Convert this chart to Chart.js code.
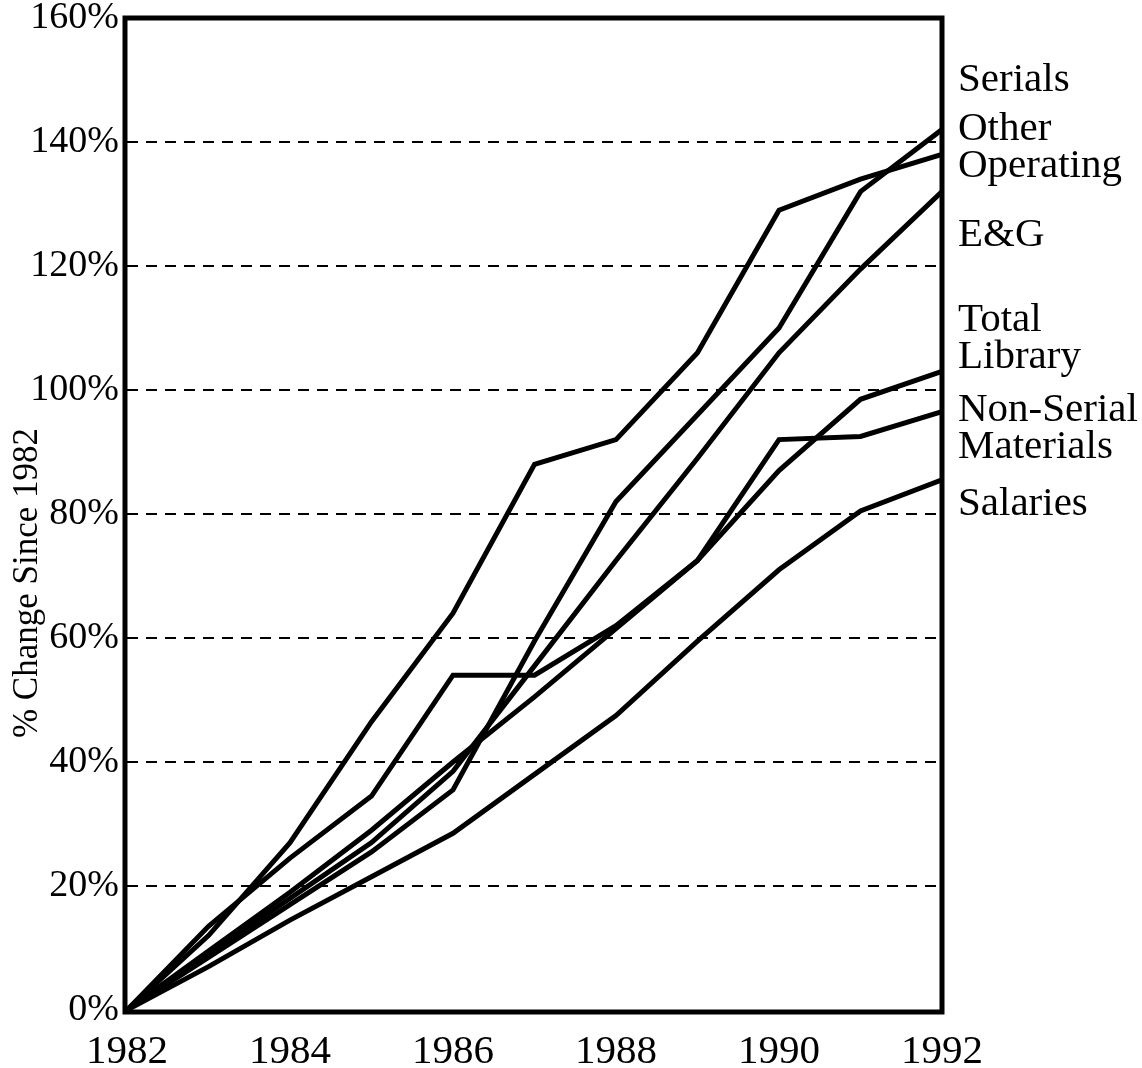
<!DOCTYPE html>
<html>
<head>
<meta charset="utf-8">
<script src="https://cdn.jsdelivr.net/npm/chart.js@4.4.1/dist/chart.umd.min.js"></script>
<style>
  html, body { margin: 0; padding: 0; background: #fff; }
  #wrap { width: 1142px; height: 1068px; }
</style>
</head>
<body>
<div id="wrap"><canvas id="growthChart" width="1142" height="1068"></canvas></div>
<script>
// Data (% change since 1982)
const years = [1982, 1983, 1984, 1985, 1986, 1987, 1988, 1989, 1990, 1991, 1992];
const serials        = [0, 8.5, 17, 25.5, 35.5, 59.5, 82, 96, 110, 132, 142];
const otherOperating = [0, 12, 27, 46.5, 64, 88, 92, 106, 129, 134, 138];
const eAndG          = [0, 9, 18, 27, 38.5, 55.5, 72.5, 89, 106, 119.5, 132];
const totalLibrary   = [0, 9.5, 19, 29, 40, 50.5, 61.5, 72.5, 87, 98.5, 103];
const nonSerial      = [0, 13.5, 24.5, 34.5, 54, 54, 62, 72.5, 92, 92.5, 96.5];
const salaries       = [0, 7, 14.5, 21.5, 28.5, 38, 47.5, 59.5, 71, 80.5, 85.5];

const yTicks = [0, 20, 40, 60, 80, 100, 120, 140, 160];
const xTicks = [1982, 1984, 1986, 1988, 1990, 1992];

// Labels at the right of the plot, and where they sit (in % units)
const endLabels = [['Serials'], ['Other', 'Operating'], ['E&G'], ['Total', 'Library'], ['Non-Serial', 'Materials'], ['Salaries']];
const endLabelAt = [150, 142, 125, 111.3, 96.8, 81.5];

const FONT = '"Liberation Serif", "Times New Roman", serif';

function toPoints(vals) {
  return vals.map((v, i) => ({ x: years[i], y: v }));
}

const seriesList = [serials, otherOperating, eAndG, totalLibrary, nonSerial, salaries];
const datasets = seriesList.map((vals, i) => ({
  label: endLabels[i].join(' '),
  data: toPoints(vals),
  borderColor: '#000',
  borderWidth: 5,
  pointRadius: 0,
  tension: 0,
  fill: false,
  borderJoinStyle: 'miter'
}));

// frame, y title and end labels
const decorations = {
  id: 'decorations',
  afterDatasetsDraw(chart) {
    const { ctx, chartArea, scales } = chart;
    ctx.save();
    ctx.strokeStyle = '#000';
    ctx.lineWidth = 5;
    ctx.strokeRect(chartArea.left - 2, chartArea.top, chartArea.right - chartArea.left + 2, chartArea.bottom - chartArea.top + 2);

    ctx.fillStyle = '#000';
    ctx.font = '41px ' + FONT;
    ctx.textBaseline = 'middle';
    ctx.textAlign = 'left';
    endLabels.forEach((lines, i) => {
      const y0 = scales.y.getPixelForValue(endLabelAt[i]);
      lines.forEach((txt, j) => ctx.fillText(txt, chartArea.right + 16, y0 + j * 37));
    });

    ctx.translate(28, 583);
    ctx.rotate(-Math.PI / 2);
    ctx.textAlign = 'center';
    ctx.font = '35px ' + FONT;
    ctx.fillText('% Change Since 1982', 0, 0);
    ctx.restore();
  }
};

new Chart(document.getElementById('growthChart'), {
  type: 'line',
  data: { datasets: datasets },
  options: {
    responsive: false,
    animation: false,
    layout: { padding: { left: 0, right: 200, top: 18, bottom: 0 } },
    plugins: {
      legend: { display: false },
      tooltip: { enabled: false }
    },
    scales: {
      x: {
        type: 'linear',
        min: 1982,
        max: 1992,
        afterBuildTicks: s => { s.ticks = xTicks.map(v => ({ value: v })); },
        afterFit: s => { s.height = 58; s.paddingLeft = 0; s.paddingRight = 0; },
        grid: { display: false },
        border: { display: false },
        ticks: {
          color: '#000',
          font: { family: FONT, size: 41 },
          padding: 10,
          maxRotation: 0,
          callback: v => String(v)
        }
      },
      y: {
        min: 0,
        max: 160,
        afterBuildTicks: s => { s.ticks = yTicks.map(v => ({ value: v })); },
        afterFit: s => { s.width = 127; s.paddingTop = 0; s.paddingBottom = 0; },
        border: { display: false, dash: [11, 8] },
        grid: {
          color: ctx => (ctx.tick && (ctx.tick.value === 0 || ctx.tick.value === 160)) ? 'rgba(0,0,0,0)' : '#000',
          lineWidth: 2,
          drawTicks: false
        },
        ticks: {
          color: '#000',
          font: { family: FONT, size: 38 },
          padding: 8,
          callback: v => v + '%'
        }
      }
    }
  },
  plugins: [decorations]
});
</script>
</body>
</html>
